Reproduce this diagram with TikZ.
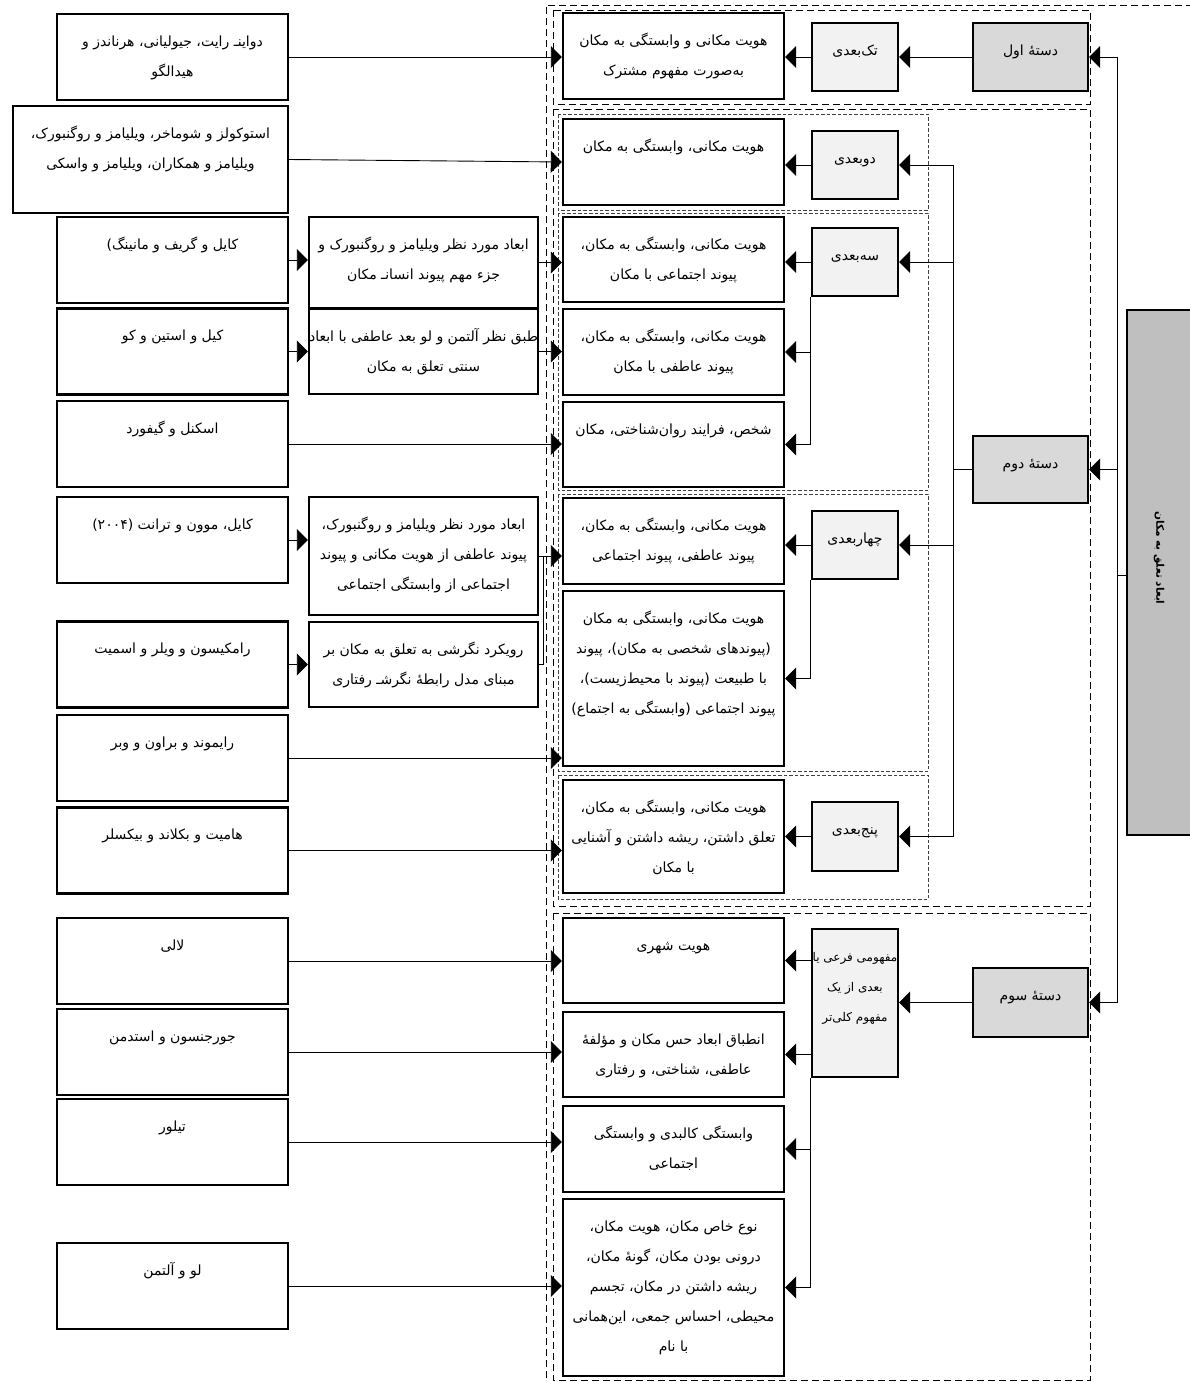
\documentclass[tikz,border=0pt]{standalone}
\usepackage{fontspec}
\usepackage{tikz}
\usetikzlibrary{arrows.meta,positioning}
\newfontfamily\arabicfont[Script=Arabic]{DejaVu Sans}
\TeXXeTstate=1
\definecolor{catgray}{HTML}{D9D9D9}
\definecolor{dimgray}{HTML}{F2F2F2}
\definecolor{rootgray}{HTML}{BFBFBF}
\newcommand{\fa}[1]{\strut\beginR #1\endR}
\newcommand{\boxtext}[2]{\node[txt, below=12pt of #1.north] (#1t) {#2};}
\tikzset{
  box/.style={draw=black, line width=2.4pt, inner sep=0pt, fill=white},
  refbox/.style={box, minimum width=231pt, minimum height=86pt},
  midbox/.style={box, minimum width=229pt},
  itembox/.style={box, minimum width=221pt},
  dimbox/.style={box, fill=dimgray, minimum width=86pt, minimum height=68pt},
  catbox/.style={box, fill=catgray, minimum width=115pt, minimum height=68pt},
  txt/.style={font=\arabicfont\fontsize{14}{30}\selectfont, align=center, inner sep=0pt},
  smalltxt/.style={font=\arabicfont\fontsize{12}{30}\selectfont},
  con/.style={line width=0.9pt},
  arr/.style={con, -{Triangle[length=11pt,width=22pt]}},
  grpframe/.style={line width=0.9pt, dash pattern=on 7pt off 4pt},
  subgrpframe/.style={line width=0.6pt, dash pattern=on 3.5pt off 2pt, black!75}
}
\begin{document}
\begin{tikzpicture}[x=1pt,y=-1pt]
\useasboundingbox (0,0) rectangle (1190,1382);
\clip (0,0) rectangle (1190,1382);

\draw[grpframe] (546,1400) -- (546,5) -- (1200,5);
\draw[grpframe] (553,10) rectangle (1090,104);
\draw[grpframe] (553,109) rectangle (1090,906);
\draw[grpframe] (553,913) rectangle (1090,1380);
\draw[subgrpframe] (558,114) rectangle (928,210);
\draw[subgrpframe] (558,213) rectangle (928,490);
\draw[subgrpframe] (558,494) rectangle (928,771);
\draw[subgrpframe] (558,775) rectangle (928,899);

\node[box, fill=rootgray, minimum width=64pt, minimum height=525pt] (root) at (1159,572.5) {};
\node[txt, font=\arabicfont\bfseries\fontsize{10.5}{12}\selectfont, rotate=-90] (roott) at (1159,558) {\beginR ابعاد تعلق به مکان\endR};

\node[catbox] (c1) at (1030.5,57) {};
\node[catbox, minimum height=67pt] (c2) at (1030.5,469.5) {};
\node[catbox, minimum height=69pt] (c3) at (1030.5,1002.5) {};
\boxtext{c1}{\fa{دستهٔ اول}}
\boxtext{c2}{\fa{دستهٔ دوم}}
\boxtext{c3}{\fa{دستهٔ سوم}}

\node[dimbox] (d1) at (855,57) {};
\node[dimbox] (d2) at (855,165) {};
\node[dimbox] (d3) at (855,262) {};
\node[dimbox] (d4) at (855,545) {};
\node[dimbox, minimum height=69pt] (d5) at (855,836.5) {};
\node[dimbox, minimum height=148pt] (d6) at (855,1003) {};
\boxtext{d1}{\fa{تک‌بعدی}}
\boxtext{d2}{\fa{دوبعدی}}
\boxtext{d3}{\fa{سه‌بعدی}}
\boxtext{d4}{\fa{چهاربعدی}}
\boxtext{d5}{\fa{پنج‌بعدی}}
\node[txt, smalltxt, below=12pt of d6.north] (d6t) {\fa{مفهومی فرعی یا}\\\fa{بعدی از یک}\\\fa{مفهوم کلی‌تر}};

\node[itembox, minimum height=86pt] (b1) at (673.5,56) {};
\node[itembox, minimum height=86pt] (b2) at (673.5,162) {};
\node[itembox, minimum height=85pt] (b3) at (673.5,259.5) {};
\node[itembox, minimum height=86pt] (b4) at (673.5,352) {};
\node[itembox, minimum height=85pt] (b5) at (673.5,444.5) {};
\node[itembox, minimum height=86pt] (b6) at (673.5,541) {};
\node[itembox, minimum height=175pt] (b7) at (673.5,678.5) {};
\node[itembox, minimum height=113pt] (b8) at (673.5,836.5) {};
\node[itembox, minimum height=85pt] (b9) at (673.5,960.5) {};
\node[itembox, minimum height=85pt] (b10) at (673.5,1054.5) {};
\node[itembox, minimum height=86pt] (b11) at (673.5,1149) {};
\node[itembox, minimum height=177pt] (b12) at (673.5,1287.5) {};
\boxtext{b1}{\fa{هویت مکانی و وابستگی به مکان}\\\fa{به‌صورت مفهوم مشترک}}
\boxtext{b2}{\fa{هویت مکانی، وابستگی به مکان}}
\boxtext{b3}{\fa{هویت مکانی، وابستگی به مکان،}\\\fa{پیوند اجتماعی با مکان}}
\boxtext{b4}{\fa{هویت مکانی، وابستگی به مکان،}\\\fa{پیوند عاطفی با مکان}}
\boxtext{b5}{\fa{شخص، فرایند روان‌شناختی، مکان}}
\boxtext{b6}{\fa{هویت مکانی، وابستگی به مکان،}\\\fa{پیوند عاطفی، پیوند اجتماعی}}
\boxtext{b7}{\fa{هویت مکانی، وابستگی به مکان}\\\fa{(پیوندهای شخصی به مکان)، پیوند}\\\fa{با طبیعت (پیوند با محیط‌زیست)،}\\\fa{پیوند اجتماعی (وابستگی به اجتماع)}}
\boxtext{b8}{\fa{هویت مکانی، وابستگی به مکان،}\\\fa{تعلق داشتن، ریشه داشتن و آشنایی}\\\fa{با مکان}}
\boxtext{b9}{\fa{هویت شهری}}
\boxtext{b10}{\fa{انطباق ابعاد حس مکان و مؤلفهٔ}\\\fa{عاطفی، شناختی، و رفتاری}}
\boxtext{b11}{\fa{وابستگی کالبدی و وابستگی}\\\fa{اجتماعی}}
\boxtext{b12}{\fa{نوع خاص مکان، هویت مکان،}\\\fa{درونی بودن مکان، گونهٔ مکان،}\\\fa{ریشه داشتن در مکان، تجسم}\\\fa{محیطی، احساس جمعی، این‌همانی}\\\fa{با نام}}

\node[midbox, minimum height=91pt] (m1) at (423.5,262.5) {};
\node[midbox, minimum height=85pt] (m2) at (423.5,351.5) {};
\node[midbox, minimum height=118pt] (m3) at (423.5,556) {};
\node[midbox, minimum height=85pt] (m4) at (423.5,664.5) {};
\boxtext{m1}{\fa{ابعاد مورد نظر ویلیامز و روگنبورک و}\\\fa{جزء مهم پیوند انسانـ مکان}}
\boxtext{m2}{\fa{طبق نظر آلتمن و لو بعد عاطفی با ابعاد}\\\fa{سنتی تعلق به مکان}}
\boxtext{m3}{\fa{ابعاد مورد نظر ویلیامز و روگنبورک،}\\\fa{پیوند عاطفی از هویت مکانی و پیوند}\\\fa{اجتماعی از وابستگی اجتماعی}}
\boxtext{m4}{\fa{رویکرد نگرشی به تعلق به مکان بر}\\\fa{مبنای مدل رابطهٔ نگرشـ رفتاری}}

\node[refbox] (r1) at (172.5,57) {};
\node[refbox, minimum width=275pt, minimum height=107pt] (r2) at (150.5,159.5) {};
\node[refbox] (r3) at (172.5,260) {};
\node[refbox] (r4) at (172.5,351.5) {};
\node[refbox] (r5) at (172.5,444) {};
\node[refbox] (r6) at (172.5,540) {};
\node[refbox] (r7) at (172.5,664.5) {};
\node[refbox] (r8) at (172.5,758) {};
\node[refbox] (r9) at (172.5,850.5) {};
\node[refbox] (r10) at (172.5,961) {};
\node[refbox] (r11) at (172.5,1052) {};
\node[refbox] (r12) at (172.5,1142) {};
\node[refbox] (r13) at (172.5,1286) {};
\boxtext{r1}{\fa{دواینـ رایت، جیولیانی، هرناندز و}\\\fa{هیدالگو}}
\boxtext{r2}{\fa{استوکولز و شوماخر، ویلیامز و روگنبورک،}\\\fa{ویلیامز و همکاران، ویلیامز و واسکی}}
\boxtext{r3}{\fa{کایل و گریف و مانینگ)}}
\boxtext{r4}{\fa{کیل و استین و کو}}
\boxtext{r5}{\fa{اسکنل و گیفورد}}
\boxtext{r6}{\fa{کایل، موون و ترانت (۲۰۰۴)}}
\boxtext{r7}{\fa{رامکیسون و ویلر و اسمیت}}
\boxtext{r8}{\fa{رایموند و براون و وبر}}
\boxtext{r9}{\fa{هامیت و بکلاند و بیکسلر}}
\boxtext{r10}{\fa{لالی}}
\boxtext{r11}{\fa{جورجنسون و استدمن}}
\boxtext{r12}{\fa{تیلور}}
\boxtext{r13}{\fa{لو و آلتمن}}

\coordinate (rootx) at (1117,575);
\draw[con] (root.west |- rootx) -- (rootx);
\draw[con] (rootx |- c1.east) -- (rootx |- c3.east);
\foreach \c in {c1,c2,c3}
  \draw[arr] (rootx |- \c.east) -- (\c.east);

\coordinate (c2x) at (953,469.5);
\draw[con] (c2.west) -- (c2x);
\draw[con] (c2x |- d2.east) -- (c2x |- d5.east);
\foreach \d in {d2,d3,d4,d5}
  \draw[arr] (c2x |- \d.east) -- (\d.east);

\draw[arr] (c1.west) -- (d1.east);
\draw[arr] (d1.west) -- (d1.west -| b1.east);
\draw[arr] (d2.west) -- (d2.west -| b2.east);
\draw[con] (d3.south west) -- (d3.west |- b5.east);
\draw[arr] (d3.west) -- (d3.west -| b3.east);
\draw[arr] (d3.west |- b4.east) -- (b4.east);
\draw[arr] (d3.west |- b5.east) -- (b5.east);
\draw[con] (d4.south west) -- (d4.west |- b7.east);
\draw[arr] (d4.west) -- (d4.west -| b6.east);
\draw[arr] (d4.west |- b7.east) -- (b7.east);
\draw[arr] (d5.west) -- (d5.west -| b8.east);
\draw[arr] (c3.west) -- (c3.west -| d6.east);
\draw[con] (d6.south west) -- (d6.west |- b12.east);
\foreach \b in {b9,b10,b11,b12}
  \draw[arr] (d6.west |- \b.east) -- (\b.east);

\draw[arr] (r1.east) -- (r1.east -| b1.west);
\draw[arr] (r2.east) -- (b2.west);
\draw[arr] (r3.east) -- (r3.east -| m1.west);
\draw[arr] (m1.east) -- (m1.east -| b3.west);
\draw[arr] (r4.east) -- (r4.east -| m2.west);
\draw[arr] (m2.east) -- (m2.east -| b4.west);
\draw[arr] (r5.east) -- (r5.east -| b5.west);
\draw[arr] (r6.east) -- (r6.east -| m3.west);
\draw[arr] (m3.east) -- (m3.east -| b6.west);
\draw[con] (m4.east) -- ++(4,0) |- (m3.east);
\draw[arr] (r7.east) -- (r7.east -| m4.west);
\draw[arr] (r8.east) -- (r8.east -| b7.west);
\draw[arr] (r9.east) -- (r9.east -| b8.west);
\foreach \r/\b in {r10/b9,r11/b10,r12/b11,r13/b12}
  \draw[arr] (\r.east) -- (\r.east -| \b.west);
\end{tikzpicture}
\end{document}
